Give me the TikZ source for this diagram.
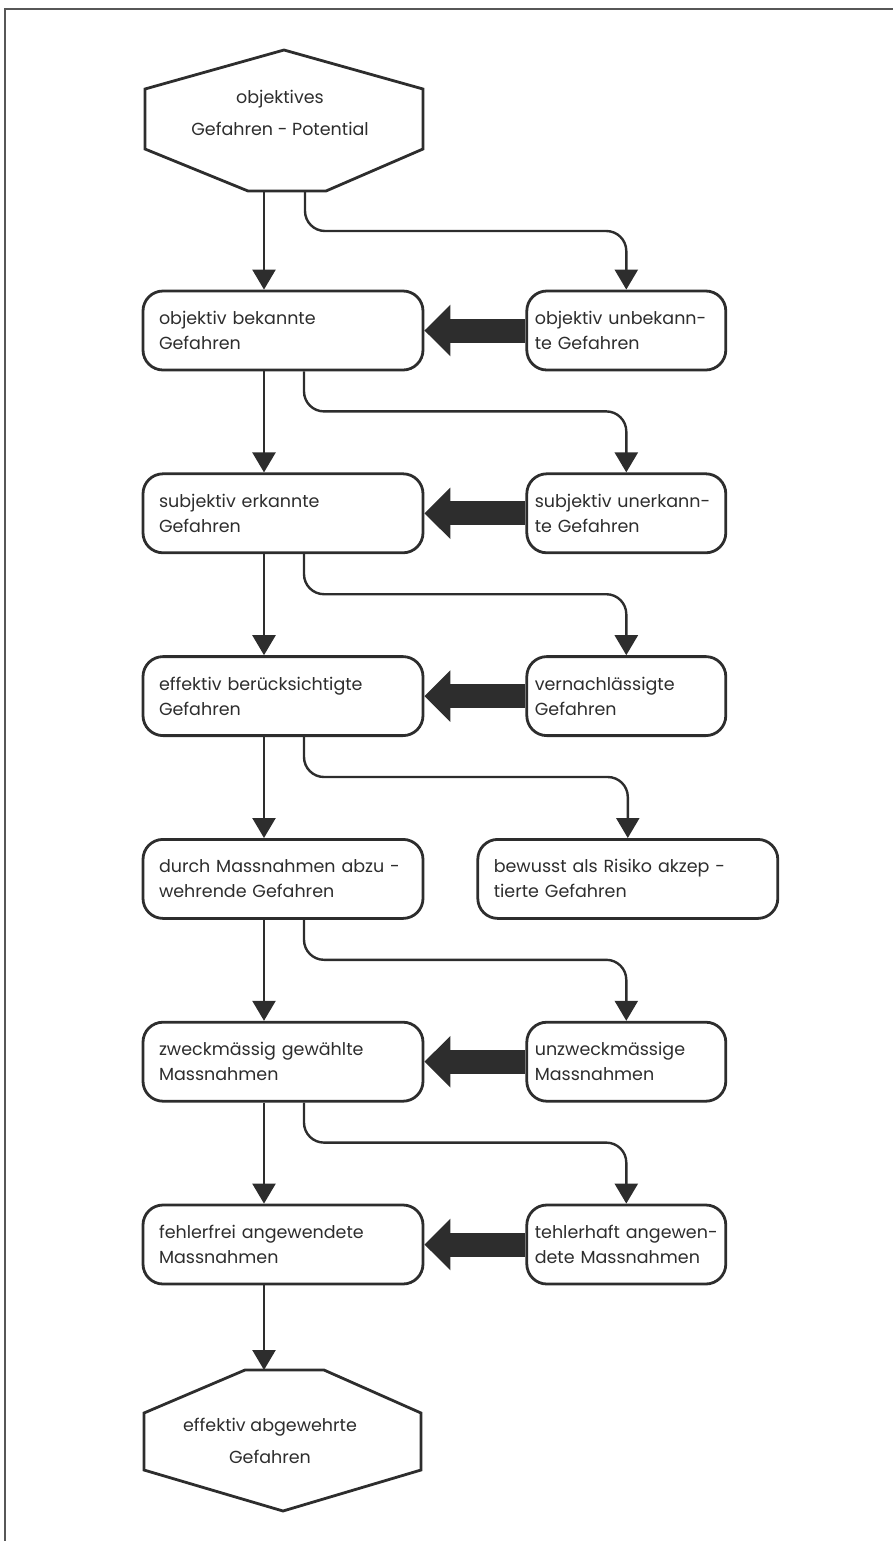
\documentclass[tikz,border=0pt]{standalone}
\usepackage{fontspec}
\setmainfont{Poppins}
\usetikzlibrary{arrows.meta,positioning}
\definecolor{inkgray}{RGB}{45,45,45}

\begin{document}
\begin{tikzpicture}[
    x=1pt, y=-1pt,
    frame/.style={draw=inkgray, line width=2.8pt, rounded corners=20pt, minimum height=79pt, align=left, font=\fontsize{17.5}{25}\selectfont, text=inkgray},
    box/.style={frame, inner xsep=16pt, text width=248pt},
    smallbox/.style={frame, inner xsep=8pt, text width=183pt},
    hex/.style={draw=inkgray, line width=2.8pt, line join=miter},
    hextext/.style={font=\fontsize{17.5}{32}\selectfont, text=inkgray, align=center},
    flow/.style={draw=inkgray, line width=2.4pt, -{Triangle[length=20pt,width=23pt]}},
    bigarrow/.style={draw=inkgray, line width=24pt, -{Triangle[length=26pt,width=50pt]}}
]
\useasboundingbox (0,0) rectangle (893,1543);
\draw[inkgray!80, line width=1.8pt] (893,9) -- (5,9) -- (5,1541);

% start and end
\draw[hex] (284,50) -- (423,89) -- (423,149) -- (326,191) -- (248,191) -- (145,149) -- (145,89) -- cycle;
\node[hextext] (potential) at (280,113) {objektives\\Gefahren - Potential};
\coordinate (potL) at (264,191);
\coordinate (potR) at (305,191);
\draw[hex] (245,1370) -- (324,1370) -- (421,1413) -- (421,1470) -- (283,1511) -- (144,1470) -- (144,1413) -- cycle;
\node[hextext] (abgewehrt) at (270,1441) {effektiv abgewehrte\\Gefahren};
\coordinate (abgTop) at (264,1370);

% left column
\node[box] (bekannt) at (283,330.5) {objektiv bekannte\\Gefahren};
\node[box, below=101pt of bekannt] (erkannt) {subjektiv erkannte\\Gefahren};
\node[box, below=101pt of erkannt] (beruecks) {effektiv berücksichtigte\\Gefahren};
\node[box, below=101pt of beruecks] (abwehr) {durch Massnahmen abzu -\\wehrende Gefahren};
\node[box, below=101pt of abwehr] (zweck) {zweckmässig gewählte\\Massnahmen};
\node[box, below=101pt of zweck] (fehlerfrei) {fehlerfrei angewendete\\Massnahmen};

% right column
\node[smallbox, right=101pt of bekannt] (unbekannt) {objektiv~unbekann-\\te Gefahren};
\node[smallbox, right=101pt of erkannt] (unerkannt) {subjektiv~unerkann-\\te Gefahren};
\node[smallbox, right=101pt of beruecks] (vernachl) {vernachlässigte\\Gefahren};
\node[box, text width=268pt, right=52pt of abwehr] (akzept) {bewusst als Risiko akzep -\\tierte Gefahren};
\node[smallbox, right=101pt of zweck] (unzweck) {unzweckmässige\\Massnahmen};
\node[smallbox, right=101pt of fehlerfrei] (fehlerhaft) {tehlerhaft~angewen-\\dete Massnahmen};

\draw[flow] (potL) -- (potL |- bekannt.north);
\draw[flow, rounded corners=20pt] (potR) -- ++(0,40) -| (unbekannt.north);
\foreach \a/\b/\r in {bekannt/erkannt/unerkannt, erkannt/beruecks/vernachl, beruecks/abwehr/akzept, abwehr/zweck/unzweck, zweck/fehlerfrei/fehlerhaft} {
  \draw[flow] ([xshift=-19pt]\a.south) -- ([xshift=-19pt]\b.north);
  \draw[flow, rounded corners=20pt] ([xshift=21pt]\a.south) -- ++(0,40) -| (\r.north);
}
\draw[flow] ([xshift=-19pt]fehlerfrei.south) -- (abgTop);

\foreach \r/\l in {unbekannt/bekannt, unerkannt/erkannt, vernachl/beruecks, unzweck/zweck, fehlerhaft/fehlerfrei}
  \draw[bigarrow] (\r.west) -- (\l.east);
\end{tikzpicture}
\end{document}
